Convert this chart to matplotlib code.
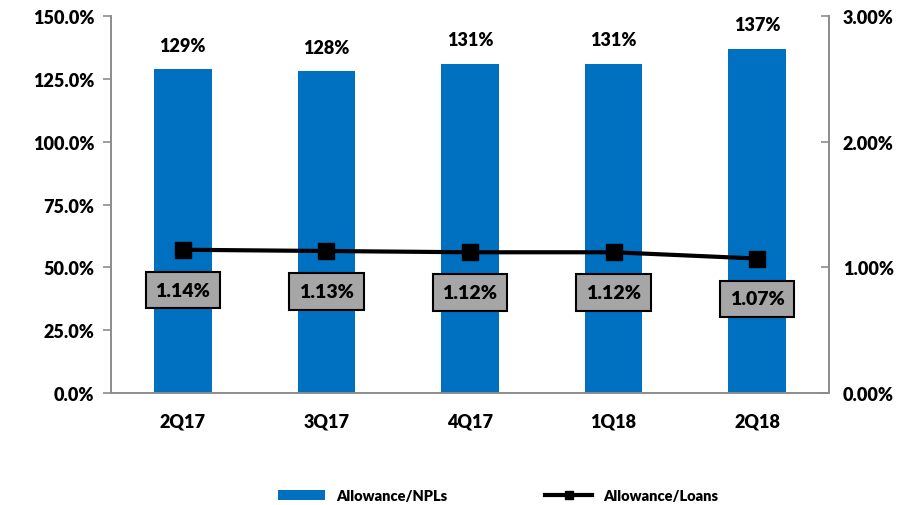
import matplotlib.pyplot as plt
from matplotlib.ticker import FuncFormatter

plt.rcParams['font.family'] = ['Lato', 'DejaVu Sans']
plt.rcParams['font.weight'] = 'heavy'

quarters = ['2Q17', '3Q17', '4Q17', '1Q18', '2Q18']
allowance_npls = [129, 128, 131, 131, 137]
allowance_loans = [1.14, 1.13, 1.12, 1.12, 1.07]

bar_color = '#0070C0'
axis_gray = '#8C8C8C'
W = 'heavy'

fig = plt.figure(figsize=(9.23, 5.06), dpi=100)
ax = fig.add_axes([0.1203, 0.2213, 0.7777, 0.7451])
ax2 = ax.twinx()

x = range(len(quarters))
ax.bar(x, allowance_npls, width=0.4, color=bar_color, label='Allowance/NPLs', zorder=2)
for xi, v in zip(x, allowance_npls):
    ax.annotate(f'{v}%', (xi, v), xytext=(0, 11), textcoords='offset points',
                ha='center', va='bottom', fontsize=13, fontweight=W)

ax2.plot(x, allowance_loans, color='black', lw=3, marker='s', markersize=11,
         label='Allowance/Loans', zorder=3)
for xi, v in zip(x, allowance_loans):
    ax2.annotate(f'{v:.2f}%', (xi, v), xytext=(0, -29), textcoords='offset points',
                 ha='center', va='center', fontsize=14, fontweight=W,
                 bbox=dict(boxstyle='square,pad=0.5', fc='#A6A6A6', ec='black', lw=1.5))

ax.set_xlim(-0.5, len(quarters) - 0.5)
ax.set_ylim(0, 150)
ax.set_yticks([0, 25, 50, 75, 100, 125, 150])
ax.yaxis.set_major_formatter(FuncFormatter(lambda v, p: f'{v:.1f}%'))
ax2.set_ylim(0, 3)
ax2.set_yticks([0, 1, 2, 3])
ax2.yaxis.set_major_formatter(FuncFormatter(lambda v, p: f'{v:.2f}%'))

ax.set_xticks(list(x))
ax.set_xticklabels(quarters)

for a in (ax, ax2):
    a.spines['top'].set_visible(False)
    for s in ('left', 'right', 'bottom'):
        a.spines[s].set_color(axis_gray)
        a.spines[s].set_linewidth(1.2)
ax.tick_params(axis='y', direction='out', length=6, width=1.2, color=axis_gray,
               labelsize=13, pad=6)
ax.tick_params(axis='x', length=0, labelsize=13, pad=14)
ax2.tick_params(axis='y', direction='in', length=6, width=1.2, color=axis_gray,
                labelsize=13, pad=10)
for lbl in ax.get_xticklabels() + ax.get_yticklabels() + ax2.get_yticklabels():
    lbl.set_fontweight(W)

h1, l1 = ax.get_legend_handles_labels()
h2, l2 = ax2.get_legend_handles_labels()
fig.legend(h1 + h2, l1 + l2, loc='lower center', bbox_to_anchor=(0.54, -0.02), ncol=2,
           frameon=False, columnspacing=6.7, handlelength=3.2, markerscale=0.5,
           handletextpad=0.8, prop={'weight': W, 'size': 10.5})

fig.savefig('out.png', dpi=100)
